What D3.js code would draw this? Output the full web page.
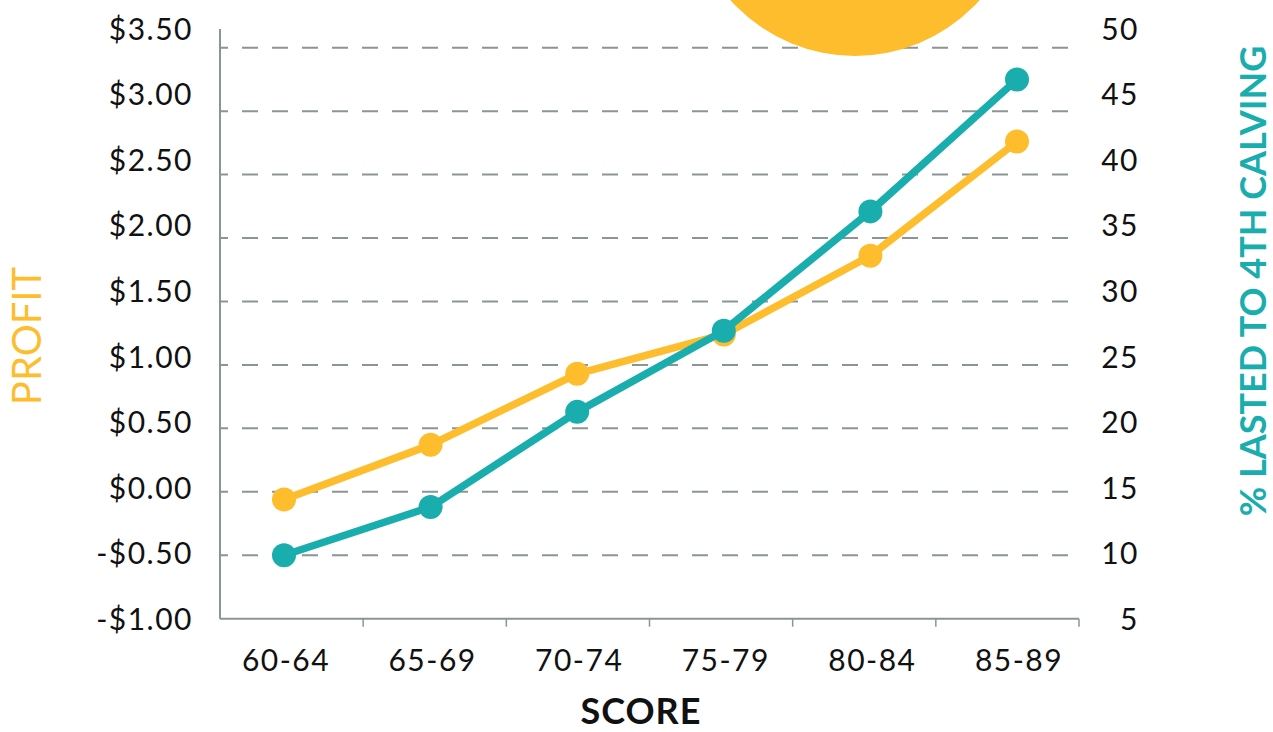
<!DOCTYPE html>
<html>
<head>
<meta charset="utf-8">
<script src="https://cdn.jsdelivr.net/npm/d3@7"></script>
<style>
  body { margin: 0; background: #fff; }
  text { font-family: Lato, "Open Sans", sans-serif; }
</style>
</head>
<body>
<div id="chart"></div>
<script>
(function(){

  // data
  let categories = ["60-64", "65-69", "70-74", "75-79", "80-84", "85-89"];
  let profit = [-0.06, 0.37, 0.93, 1.24, 1.86, 2.76];          // left axis, $
  let lasted = [10.0, 13.8, 21.3, 27.7, 37.1, 47.5];           // right axis, %
  let leftTicks = [-1, -0.5, 0, 0.5, 1, 1.5, 2, 2.5, 3, 3.5];
  let rightTicks = [5, 10, 15, 20, 25, 30, 35, 40, 45, 50];

  let width = 1273;
  let height = 732;
  let yellow = "#fdbd2c";
  let teal = "#1aadad";
  let grey = "#8c9595";

  let svg = d3.select("#chart")
            .append("svg")
            .attr("width", width)
            .attr("height", height);

  let plotLeft = 220, plotRight = 1079, plotTop = 47.7, plotBottom = 618.7;

  let yLeft = d3.scaleLinear().domain([-1, 3.5]).range([plotBottom, plotTop]);
  let yRight = d3.scaleLinear().domain([5, 50]).range([plotBottom, plotTop]);
  //the tick labels in the original are spread a little taller than the gridlines
  let yLeftLabels = d3.scaleLinear().domain([-1, 3.5]).range([618.5, 28.5]);
  let yRightLabels = d3.scaleLinear().domain([5, 50]).range([618.5, 28.5]);
  let xBand = d3.scaleBand().domain(categories).range([plotLeft, plotRight]); //for the tick marks
  let xPoint = d3.scalePoint().domain(categories).range([284, 1017]);         //where the dots sit

  //dashed gridlines
  svg.append("g")
    .selectAll("line")
    .data(leftTicks.filter(d => d > -1))
    .enter().append("line")
    .attr("x1", plotLeft)
    .attr("x2", plotRight)
    .attr("y1", d => yLeft(d))
    .attr("y2", d => yLeft(d))
    .attr("stroke", grey)
    .attr("stroke-width", 2)
    .attr("stroke-dasharray", "16,14")
    .attr("stroke-dashoffset", 8);

  //the sun peeking in at the top
  svg.append("circle")
    .attr("cx", 855)
    .attr("cy", -111)
    .attr("r", 167)
    .attr("fill", yellow);

  //left axis labels
  let leftAxis = svg.append("g")
    .attr("transform", "translate(" + plotLeft + ",0)")
    .call(d3.axisLeft(yLeftLabels).tickValues(leftTicks).tickSize(0).tickPadding(27)
      .tickFormat(d => (d < 0 ? "-$" : "$") + d3.format(".2f")(Math.abs(d))));
  leftAxis.select(".domain").remove();
  leftAxis.selectAll("text")
    .attr("font-size", 30)
    .attr("letter-spacing", 1.5)
    .attr("fill", "#111")
    .attr("dy", "0.36em");

  svg.append("line")
    .attr("x1", plotLeft).attr("x2", plotLeft)
    .attr("y1", 29).attr("y2", plotBottom)
    .attr("stroke", grey).attr("stroke-width", 2);

  //right axis (labels only)
  let rightAxis = svg.append("g")
    .attr("transform", "translate(1139,0)")
    .call(d3.axisLeft(yRightLabels).tickValues(rightTicks).tickSize(0).tickPadding(0));
  rightAxis.select(".domain").remove();
  rightAxis.selectAll("text")
    .attr("font-size", 30)
    .attr("letter-spacing", 1.5)
    .attr("fill", "#111")
    .attr("dy", "0.36em");

  //bottom axis: ticks between bands
  svg.append("line")
    .attr("x1", plotLeft).attr("x2", plotRight)
    .attr("y1", plotBottom).attr("y2", plotBottom)
    .attr("stroke", grey).attr("stroke-width", 2);

  svg.append("g")
    .selectAll("line")
    .data(categories)
    .enter().append("line")
    .attr("x1", d => xBand(d) + xBand.bandwidth())
    .attr("x2", d => xBand(d) + xBand.bandwidth())
    .attr("y1", plotBottom)
    .attr("y2", plotBottom + 8)
    .attr("stroke", grey)
    .attr("stroke-width", 1.5);

  svg.append("g")
    .selectAll("text")
    .data(categories)
    .enter().append("text")
    .attr("x", d => xPoint(d) + 2)
    .attr("y", 671)
    .attr("text-anchor", "middle")
    .attr("font-size", 30)
    .attr("letter-spacing", 1.5)
    .attr("fill", "#111")
    .text(d => d);

  //lines + dots
  function drawSeries(values, yScale, color){
    let pts = categories.map((c, i) => [xPoint(c), yScale(values[i])]);
    svg.append("path")
      .datum(pts)
      .attr("d", d3.line())
      .attr("fill", "none")
      .attr("stroke", color)
      .attr("stroke-width", 7.5)
      .attr("stroke-linejoin", "round");
    svg.append("g")
      .selectAll("circle")
      .data(pts)
      .enter().append("circle")
      .attr("cx", d => d[0])
      .attr("cy", d => d[1])
      .attr("r", 12)
      .attr("fill", color);
  }
  drawSeries(profit, yLeft, yellow);
  drawSeries(lasted, yRight, teal);

  //axis titles
  svg.append("text")
    .attr("transform", "translate(41,336) rotate(-90)")
    .attr("text-anchor", "middle")
    .attr("font-size", 40)
    .attr("fill", yellow)
    .text("PROFIT");

  svg.append("text")
    .attr("transform", "translate(1266,281) rotate(-90)")
    .attr("text-anchor", "middle")
    .attr("font-size", 36)
    .attr("font-weight", "bold")
    .attr("fill", teal)
    .text("% LASTED TO 4TH CALVING");

  svg.append("text")
    .attr("x", 641)
    .attr("y", 724)
    .attr("text-anchor", "middle")
    .attr("font-size", 36)
    .attr("font-weight", "bold")
    .attr("letter-spacing", 1)
    .attr("fill", "#111")
    .text("SCORE");

})();
</script>
</body>
</html>
